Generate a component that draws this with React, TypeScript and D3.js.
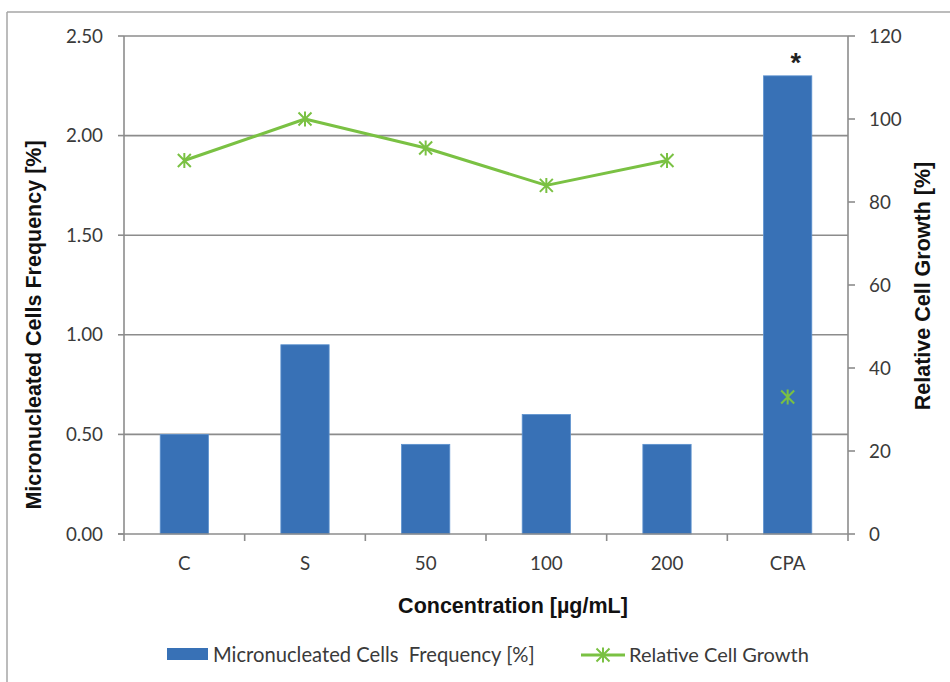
import React from "react";
import * as d3 from "d3";

const categories = ["C", "S", "50", "100", "200", "CPA"];
const mnFrequency = [0.5, 0.95, 0.45, 0.6, 0.45, 2.3];
const cellGrowth = [90, 100, 93, 84, 90, 33];
const growthConnected = [true, true, true, true, true, false];
const leftTicks = [0, 0.5, 1.0, 1.5, 2.0, 2.5];
const rightTicks = [0, 20, 40, 60, 80, 100, 120];
const significance = ["", "", "", "", "", "*"];

const W = 950;
const H = 682;
const plot = { left: 124, right: 848, top: 36, bottom: 534 };
const BLUE = "#3871b6";
const GREEN = "#7ac143";
const GRID = "#8c8c8c";
const TEXT = "#3a3a3a";
const tickFont = "Lato, 'Open Sans', sans-serif";
const titleFont = "'Liberation Sans', Arial, sans-serif";

function Star({ x, y, s = 6.5 }: { x: number; y: number; s?: number }) {
  return (
    <path
      d={`M${x - s},${y - s}L${x + s},${y + s}M${x - s},${y + s}L${x + s},${y - s}M${x},${y - s - 1}L${x},${y + s + 1}`}
      stroke={GREEN}
      strokeWidth={2}
      fill="none"
    />
  );
}

export default function App() {
  const x = d3.scaleBand<string>().domain(categories).range([plot.left, plot.right]).paddingInner(0).paddingOuter(0);
  const yL = d3.scaleLinear().domain([0, 2.5]).range([plot.bottom, plot.top]);
  const yR = d3.scaleLinear().domain([0, 120]).range([plot.bottom, plot.top]);
  const bw = x.bandwidth() * 0.4;
  const cx = (c: string) => (x(c) as number) + x.bandwidth() / 2;

  const linePts = categories
    .map((c, i) => ({ c, v: cellGrowth[i], on: growthConnected[i] }))
    .filter((d) => d.on);
  const line = d3
    .line<{ c: string; v: number }>()
    .x((d) => cx(d.c))
    .y((d) => yR(d.v));

  const boundaries = categories.map((c) => x(c) as number).concat([plot.right]);

  return (
    <svg width={W} height={H} style={{ position: "absolute", left: 0, top: 0, background: "#fff" }}>
      {/* outer frame */}
      <line x1={7} y1={12} x2={W} y2={12} stroke="#a6a6a6" strokeWidth={1.5} />
      <line x1={7} y1={12} x2={7} y2={H} stroke="#a6a6a6" strokeWidth={1.5} />

      {/* gridlines */}
      {leftTicks.slice(1).map((t) => (
        <line key={"g" + t} x1={plot.left} x2={plot.right} y1={yL(t)} y2={yL(t)} stroke={GRID} strokeWidth={1.6} />
      ))}

      {/* bars */}
      {categories.map((c, i) => (
        <rect
          key={"b" + c}
          x={cx(c) - bw / 2}
          y={yL(mnFrequency[i])}
          width={bw}
          height={plot.bottom - yL(mnFrequency[i])}
          fill={BLUE}
          stroke="#5d92cf"
          strokeWidth={0.8}
        />
      ))}

      {/* significance */}
      {categories.map((c, i) =>
        significance[i] ? (
          <text
            key={"s" + c}
            x={cx(c) + 8}
            y={yL(mnFrequency[i]) - 4}
            textAnchor="middle"
            fontFamily={titleFont}
            fontWeight="bold"
            fontSize={27}
            fill="#222"
          >
            {significance[i]}
          </text>
        ) : null
      )}

      {/* axes */}
      <line x1={plot.left} x2={plot.left} y1={plot.top} y2={plot.bottom} stroke={GRID} strokeWidth={1.6} />
      <line x1={plot.right} x2={plot.right} y1={plot.top} y2={plot.bottom} stroke={GRID} strokeWidth={1.6} />
      <line x1={plot.left - 6} x2={plot.right} y1={plot.bottom} y2={plot.bottom} stroke={GRID} strokeWidth={1.6} />
      {leftTicks.map((t) => (
        <g key={"lt" + t}>
          <line x1={plot.left - 6} x2={plot.left} y1={yL(t)} y2={yL(t)} stroke={GRID} strokeWidth={1.6} />
          <text x={103} y={yL(t) + 6.5} textAnchor="end" fontFamily={tickFont} fontSize={18.8} fill={TEXT}>
            {t.toFixed(2)}
          </text>
        </g>
      ))}
      {rightTicks.map((t) => (
        <g key={"rt" + t}>
          <line x1={plot.right} x2={plot.right + 7} y1={yR(t)} y2={yR(t)} stroke={GRID} strokeWidth={1.6} />
          <text x={869} y={yR(t) + 6.5} textAnchor="start" fontFamily={tickFont} fontSize={18.8} fill={TEXT}>
            {t}
          </text>
        </g>
      ))}
      {boundaries.map((b, i) => (
        <line key={"xt" + i} x1={b} x2={b} y1={plot.bottom} y2={plot.bottom + 7} stroke={GRID} strokeWidth={1.6} />
      ))}
      {categories.map((c) => (
        <text key={"xl" + c} x={cx(c)} y={570} textAnchor="middle" fontFamily={tickFont} fontSize={18.8} fill={TEXT}>
          {c}
        </text>
      ))}

      {/* growth line */}
      <path d={line(linePts) || ""} fill="none" stroke={GREEN} strokeWidth={3} strokeLinejoin="round" />
      {categories.map((c, i) => (
        <Star key={"m" + c} x={cx(c)} y={yR(cellGrowth[i])} />
      ))}

      {/* axis titles */}
      <text
        transform="translate(41,325) rotate(-90)"
        textAnchor="middle"
        fontFamily={titleFont}
        fontWeight="bold"
        fontSize={21.5}
        fill="#111"
      >
        Micronucleated Cells Frequency [%]
      </text>
      <text
        transform="translate(930,286) rotate(-90)"
        textAnchor="middle"
        fontFamily={titleFont}
        fontWeight="bold"
        fontSize={21.5}
        fill="#111"
      >
        Relative Cell Growth [%]
      </text>
      <text x={513} y={613} textAnchor="middle" fontFamily={titleFont} fontWeight="bold" fontSize={21.5} fill="#111">
        Concentration [µg/mL]
      </text>

      {/* legend */}
      <rect x={167} y={648} width={41} height={12} fill={BLUE} />
      <text x={213} y={662} fontFamily={tickFont} fontSize={20.2} fill={TEXT} style={{ whiteSpace: "pre" }}>
        {"Micronucleated Cells  Frequency [%]"}
      </text>
      <line x1={581} x2={625} y1={655} y2={655} stroke={GREEN} strokeWidth={3} />
      <Star x={603} y={655} />
      <text x={629} y={662} fontFamily={tickFont} fontSize={20} fill={TEXT}>
        Relative Cell Growth
      </text>
    </svg>
  );
}
